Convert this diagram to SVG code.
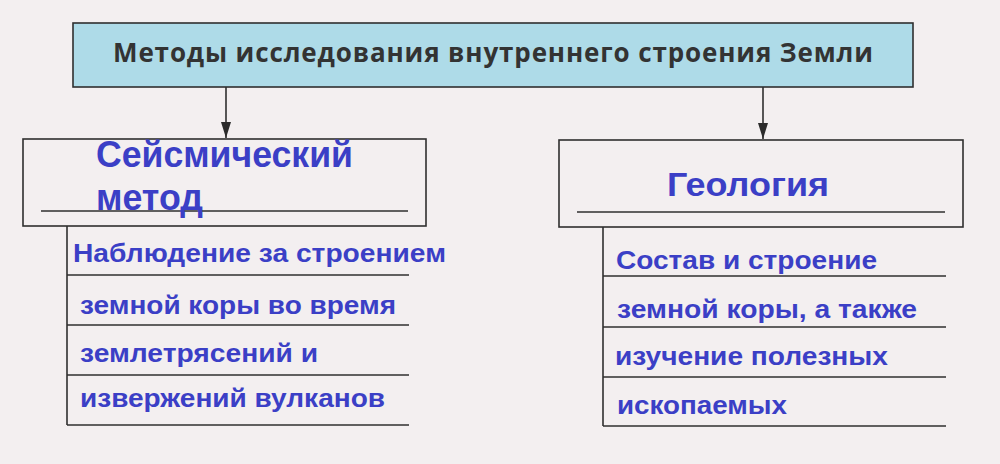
<svg xmlns="http://www.w3.org/2000/svg" width="1000" height="464" viewBox="0 0 1000 464">
<defs>
<marker id="arr" viewBox="0 0 16 10" refX="16" refY="5" markerWidth="16" markerHeight="10" markerUnits="userSpaceOnUse" orient="auto">
<path d="M0,0 L16,5 L0,10 Z" fill="#2b2b2b"/>
</marker>
</defs>
<style>
.box{fill:none;stroke:#2f2f2f;stroke-width:1.6}
.ln{stroke:#2f2f2f;stroke-width:1.6}
.title{font-family:"Open Sans","Liberation Sans",sans-serif;font-weight:bold;font-size:26px;fill:#333}
.head{font-family:"Liberation Sans",Arial,sans-serif;font-weight:bold;fill:#3b3fc6}
.item{font-family:"Liberation Sans",Arial,sans-serif;font-weight:bold;font-size:25px;fill:#3b3fc6}
</style>
<rect width="1000" height="464" fill="#f3eff0"/>
<g id="title">
<rect x="73" y="23" width="840" height="64" fill="#aedbe8" stroke="#2f2f2f" stroke-width="1.6"/>
<text class="title" x="113" y="62" textLength="760" lengthAdjust="spacing">Методы исследования внутреннего строения Земли</text>
</g>
<g id="connectors">
<line class="ln" x1="226" y1="87" x2="226" y2="138" marker-end="url(#arr)"/>
<line class="ln" x1="763" y1="87" x2="763" y2="139" marker-end="url(#arr)"/>
</g>
<g id="seismic">
<rect class="box" x="23" y="139" width="403" height="87"/>
<line class="ln" x1="41" y1="211" x2="408" y2="211"/>
<text class="head" x="96" y="167" font-size="37" textLength="257" lengthAdjust="spacingAndGlyphs">Сейсмический</text>
<text class="head" x="96" y="210" font-size="37" textLength="107" lengthAdjust="spacingAndGlyphs">метод</text>
</g>
<g id="seismic-list">
<line class="ln" x1="67" y1="226" x2="67" y2="425"/>
<line class="ln" x1="67" y1="275" x2="409" y2="275"/>
<line class="ln" x1="67" y1="325" x2="409" y2="325"/>
<line class="ln" x1="67" y1="375" x2="409" y2="375"/>
<line class="ln" x1="67" y1="425" x2="409" y2="425"/>
<text class="item" x="73" y="262" textLength="373" lengthAdjust="spacingAndGlyphs">Наблюдение за строением</text>
<text class="item" x="80" y="314" textLength="316" lengthAdjust="spacingAndGlyphs">земной коры во время</text>
<text class="item" x="80" y="362" textLength="238" lengthAdjust="spacingAndGlyphs">землетрясений и</text>
<text class="item" x="80" y="407" textLength="305" lengthAdjust="spacingAndGlyphs">извержений вулканов</text>
</g>
<g id="geology">
<rect class="box" x="559" y="140" width="404" height="87"/>
<line class="ln" x1="577" y1="212" x2="945" y2="212"/>
<text class="head" x="667" y="196" font-size="34" textLength="162" lengthAdjust="spacingAndGlyphs">Геология</text>
</g>
<g id="geology-list">
<line class="ln" x1="603" y1="227" x2="603" y2="426"/>
<line class="ln" x1="603" y1="276" x2="946" y2="276"/>
<line class="ln" x1="603" y1="327" x2="946" y2="327"/>
<line class="ln" x1="603" y1="377" x2="946" y2="377"/>
<line class="ln" x1="603" y1="426" x2="946" y2="426"/>
<text class="item" x="616" y="269" textLength="261" lengthAdjust="spacingAndGlyphs">Состав и строение</text>
<text class="item" x="617" y="318" textLength="300" lengthAdjust="spacingAndGlyphs">земной коры, а также</text>
<text class="item" x="615" y="365" textLength="273" lengthAdjust="spacingAndGlyphs">изучение полезных</text>
<text class="item" x="617" y="414" textLength="170" lengthAdjust="spacingAndGlyphs">ископаемых</text>
</g>
</svg>
